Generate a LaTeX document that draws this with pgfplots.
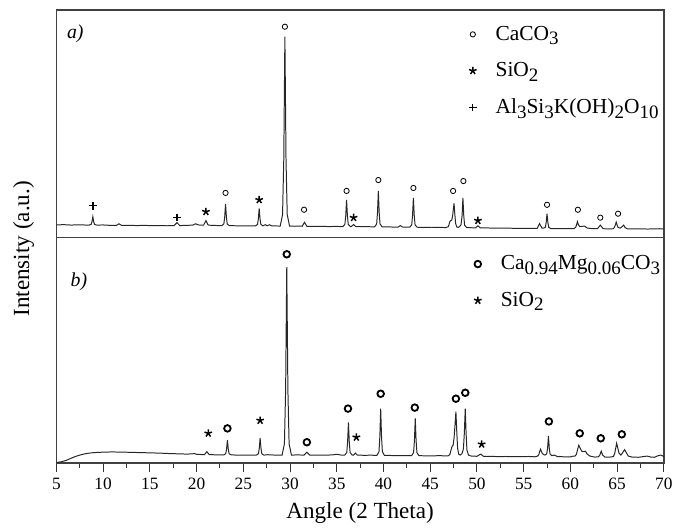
\documentclass[border=0pt]{standalone}
\usepackage{fontspec}
\setmainfont{Liberation Serif}
\usepackage{pgfplots}
\pgfplotsset{compat=1.18}
\usetikzlibrary{plotmarks}

% lowered, nearly full-size subscripts as in the original figure
\newcommand{\sub}[1]{\raisebox{-0.45ex}{\fontsize{11.5}{13}\selectfont #1}}

\pgfplotsset{
  xrd/.style={
    scale only axis, width=368.4pt,
    xmin=5, xmax=70, ymin=0,
    ytick=\empty,
    axis line style={black!75, line width=0.8pt},
    /pgf/number format/assume math mode=true,
    ticklabel style={font=\fontsize{10.5}{12}\selectfont},
    label style={font=\fontsize{14}{16}\selectfont},
    legend cell align=left,
    legend image code/.code={\path (0cm,0cm) (0.5cm,0cm);
      \draw[##1] plot coordinates {(0.1cm,0cm)};},
    legend style={draw=none, fill=none, inner sep=0pt, row sep=8pt,
      font=\fontsize{13}{15}\selectfont},
  },
  spec/.style={black!85, line width=0.6pt, forget plot},
}

\begin{document}
\begin{tikzpicture}
% ---------------- a) ----------------
\begin{axis}[xrd, name=top, height=138pt, ymax=230,
  xtick=\empty,
  ylabel={Intensity (a.u.)},
  ylabel style={at={(rel axis cs:-0.027,-0.05)}, anchor=south},
  legend style={at={(rel axis cs:0.676,0.945)}, anchor=north west},
]
\addplot[only marks, mark=o, mark size=1.6pt, line width=0.5pt, black] coordinates {
  (23.1,45) (29.45,213) (31.5,28) (36.05,47) (39.45,58) (43.2,50)
  (47.45,47) (48.55,57) (57.5,33) (60.8,28) (63.2,20) (65.1,24)
};
\addlegendentry{CaCO\sub{3}}
\addplot[only marks, mark=star, mark size=2.4pt, line width=0.9pt, black] coordinates {
  (21.0,26) (26.7,38) (36.8,20) (50.1,17)
};
\addlegendentry{SiO\sub{2}}
\addplot[only marks, mark=+, mark size=2.3pt, line width=0.8pt, black] coordinates {
  (8.9,32) (17.9,20)
};
\addlegendentry{Al\sub{3}Si\sub{3}K(OH)\sub{2}O\sub{10}}

\addplot[spec] coordinates {
(5.0,12.7) (5.8,12.9) (6.6,12.5) (7.4,12.8) (8.2,12.5) (8.5,12.5) (8.72,13.2) (8.81,15.9) (8.9,21.0) (8.99,15.9) (9.08,13.2) (9.3,12.5)
(10.0,12.6) (10.8,12.2) (11.45,12.3) (11.7,13.8) (11.95,12.3) (12.8,12.3) (13.6,12.0) (14.4,12.2) (15.2,11.9) (16.0,12.0) (16.8,11.8)
(17.6,12.0) (17.9,15.0) (18.2,12.0) (19.0,12.2) (19.6,12.5) (19.9,13.8) (20.2,12.6) (20.75,12.4) (21.0,17.0) (21.25,12.4) (22.0,12.1)
(22.7,11.9) (22.92,13.7) (23.01,20.7) (23.1,33.9) (23.19,20.7) (23.28,13.7) (23.5,11.9) (24.2,11.8) (25.0,11.6) (25.8,11.7)
(26.3,11.7) (26.52,13.1) (26.61,18.7) (26.7,29.3) (26.79,18.7) (26.88,13.1) (27.1,11.7) (27.35,12.9) (27.55,11.8) (27.8,12.8)
(28.05,11.7) (28.5,11.6) (28.95,11.5) (29.2,23.0) (29.33,78.5) (29.45,203.0) (29.57,78.5) (29.7,23.0) (29.95,11.5) (30.5,11.3)
(31.0,11.4) (31.3,11.3) (31.55,15.3) (31.8,11.3) (32.5,11.2) (33.3,11.3) (34.1,11.0) (34.9,11.1) (35.65,11.0) (35.87,13.2)
(35.96,21.8) (36.05,38.0) (36.14,21.8) (36.23,13.2) (36.45,11.0) (36.55,11.0) (36.8,13.0) (37.05,11.0) (37.9,10.9) (38.6,10.8)
(39.05,10.7) (39.27,13.6) (39.36,25.2) (39.45,47.0) (39.54,25.2) (39.63,13.6) (39.85,10.7) (40.6,10.6) (41.55,10.4) (41.8,12.0)
(42.05,10.4) (42.8,10.3) (43.02,12.7) (43.11,22.2) (43.2,40.0) (43.29,22.2) (43.38,12.7) (43.6,10.3) (44.4,10.2) (45.2,10.3)
(46.0,10.1) (46.7,10.0) (46.95,11.0) (47.1,16.0) (47.2,17.0) (47.3,17.5) (47.4,22.0) (47.47,28.0) (47.55,34.5) (47.63,24.0)
(47.72,14.0) (47.85,10.5) (48.0,10.2) (48.15,11.0) (48.3,13.0) (48.41,22.0) (48.5,40.0) (48.59,22.0) (48.68,12.4) (48.9,10.0)
(49.4,9.8) (49.85,9.7) (50.1,11.7) (50.35,9.7) (51.0,9.6) (52.0,9.4) (53.0,9.5) (54.0,9.2) (55.0,9.1) (56.0,9.2) (56.45,9.1)
(56.7,14.0) (56.95,9.5) (57.1,9.3) (57.32,10.2) (57.41,15.0) (57.5,24.0) (57.59,15.0) (57.68,10.2) (57.9,9.0) (58.5,9.0)
(59.3,8.8) (60.0,8.9) (60.4,9.0) (60.58,10.5) (60.67,13.0) (60.75,16.0) (60.85,13.0) (61.0,11.0) (61.3,11.2) (61.5,11.5)
(61.8,9.5) (62.3,8.9) (62.9,8.8) (63.2,12.5) (63.5,8.8) (64.2,8.7) (64.6,8.8) (64.75,11.0) (64.82,13.0) (64.9,15.5) (64.98,13.0)
(65.1,10.0) (65.35,9.5) (65.55,11.0) (65.7,12.5) (65.85,10.0) (66.1,8.7) (66.8,8.6) (67.5,8.7) (68.2,8.5) (68.9,8.6) (69.5,8.8) (70.0,8.6)
};
\node[anchor=north west, font=\fontsize{12}{14}\selectfont\itshape] at (rel axis cs:0.008,0.96) {a)};
\end{axis}

% ---------------- b) ----------------
\begin{axis}[xrd, name=bot, at={(top.south west)}, anchor=north west,
  height=136.8pt, ymax=228,
  xtick={5,10,...,70}, minor x tick num=1,
  xtick pos=bottom, tick align=outside,
  major tick length=5.5pt, minor tick length=3.2pt,
  tick style={black!80, line width=0.6pt},
  xlabel={Angle (2 Theta)},
  xlabel style={yshift=-1pt},
  legend style={at={(rel axis cs:0.684,0.935)}, anchor=north west},
]
\addplot[only marks, mark=o, mark size=2.0pt, line width=1.1pt, black] coordinates {
  (23.3,35) (29.65,211) (31.8,21) (36.2,55) (39.7,70) (43.35,56)
  (47.75,65) (48.75,71) (57.7,42) (61.0,30) (63.25,25) (65.5,29)
};
\addlegendentry{Ca\sub{0.94}Mg\sub{0.06}CO\sub{3}}
\addplot[only marks, mark=star, mark size=2.4pt, line width=0.9pt, black] coordinates {
  (21.25,30) (26.8,43) (37.1,26) (50.5,19)
};
\addlegendentry{SiO\sub{2}}

\addplot[spec] coordinates {
(5.0,0.5) (5.5,1.2) (6.0,2.5) (6.5,4.5) (7.0,6.5) (7.5,8.0) (8.0,9.2) (8.5,10.0) (9.0,10.5) (10.0,11.0) (11.0,11.2) (12.0,11.0)
(13.0,10.8) (14.0,10.5) (15.0,10.3) (16.0,10.0) (17.0,9.6) (18.0,9.3) (19.0,9.0) (19.8,9.5) (20.0,8.8) (20.5,8.6) (20.85,8.5)
(21.1,11.5) (21.35,8.5) (22.0,8.3) (22.9,8.2) (23.12,9.4) (23.21,14.2) (23.3,23.2) (23.39,14.2) (23.48,9.4) (23.7,8.2) (24.4,8.0)
(25.2,8.1) (26.0,8.0) (26.4,8.0) (26.62,9.4) (26.71,14.9) (26.8,25.3) (26.89,14.9) (26.98,9.4) (27.2,8.0) (27.6,8.4) (28.2,8.1)
(28.7,8.0) (29.15,8.0) (29.4,19.4) (29.53,74.5) (29.65,198.0) (29.77,74.5) (29.9,19.4) (30.15,8.0) (30.8,8.2) (31.5,8.0)
(31.8,11.0) (32.1,8.0) (32.9,8.1) (33.7,7.9) (34.5,8.2) (35.0,8.8) (35.5,8.0) (35.85,8.0) (36.07,10.6) (36.16,21.2) (36.25,41.0)
(36.34,21.2) (36.43,10.6) (36.65,8.0) (36.8,8.0) (37.0,10.0) (37.2,8.0) (37.9,7.8) (38.7,7.9) (39.3,7.7) (39.52,11.5) (39.61,26.6)
(39.7,55.0) (39.79,26.6) (39.88,11.5) (40.1,7.7) (40.8,7.6) (41.6,7.5) (42.3,7.5) (43.0,7.4) (43.22,10.4) (43.31,22.4) (43.4,45.0)
(43.49,22.4) (43.58,10.4) (43.8,7.4) (44.5,7.3) (45.3,7.2) (46.0,7.5) (46.5,7.2) (46.9,7.2) (47.1,8.5) (47.25,14.0) (47.35,17.0)
(47.45,18.0) (47.55,25.0) (47.65,38.0) (47.75,52.0) (47.84,32.0) (47.93,15.0) (48.05,9.0) (48.2,8.0) (48.4,9.5) (48.55,14.0)
(48.65,30.0) (48.75,55.0) (48.84,30.0) (48.93,13.0) (49.1,8.0) (49.4,7.0) (50.0,6.8) (50.4,9.0) (50.7,6.8) (51.5,6.7) (52.3,6.5)
(53.1,6.6) (53.9,6.4) (54.7,6.5) (55.5,6.6) (56.2,6.3) (56.45,6.8) (56.6,8.0) (56.8,14.0) (57.0,9.5) (57.15,8.5) (57.3,8.0)
(57.47,9.5) (57.56,15.0) (57.65,27.3) (57.74,15.0) (57.83,9.0) (58.0,7.5) (58.3,8.0) (58.6,6.5) (59.3,6.3) (60.0,6.2) (60.3,7.0)
(60.5,7.0) (60.65,9.0) (60.78,14.0) (60.9,18.0) (61.05,15.0) (61.2,12.0) (61.45,11.5) (61.6,12.0) (61.8,9.0) (62.1,7.0) (62.6,6.0)
(63.0,6.3) (63.15,8.0) (63.3,12.0) (63.45,8.0) (63.7,6.0) (64.2,6.0) (64.6,6.5) (64.75,10.0) (64.85,15.0) (64.95,20.0) (65.05,16.0)
(65.2,10.0) (65.4,8.0) (65.6,10.5) (65.8,13.5) (65.95,11.0) (66.2,7.0) (66.6,6.0) (67.3,5.8) (67.8,6.5) (68.2,7.0) (68.6,6.0)
(69.0,5.8) (69.4,7.5) (69.7,8.0) (70.0,6.5)
};
\node[anchor=north west, font=\fontsize{12}{14}\selectfont\itshape] at (rel axis cs:0.014,0.87) {b)};
\end{axis}
\path ([xshift=-34.2pt,yshift=6pt]top.north west) ([xshift=4.2pt]bot.south east);
\end{tikzpicture}
\end{document}
